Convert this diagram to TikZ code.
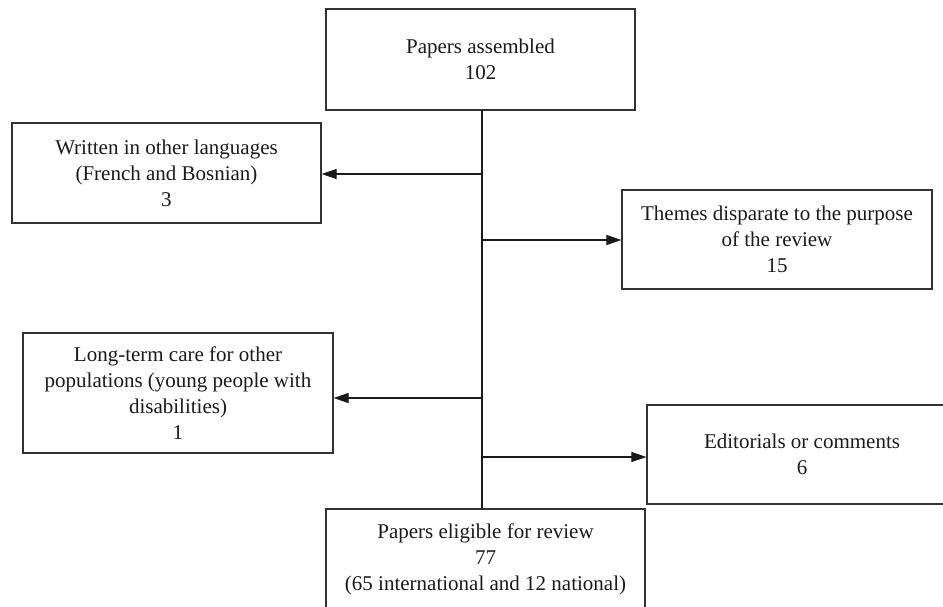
\documentclass[tikz,border=0pt]{standalone}
\usepackage{fontspec}
\setmainfont{Liberation Serif}
\usetikzlibrary{arrows.meta,calc}
\definecolor{pfink}{HTML}{1A1A1A}
\definecolor{pfline}{HTML}{333333}
\tikzset{
  pf text/.style={font=\fontsize{10.5}{13}\selectfont, text=pfink},
  pf box/.style={draw=pfline, line width=0.6pt, fill=white, align=center,
    inner sep=2pt, font=\fontsize{10.5}{13}\selectfont},
  pf arrow/.style={-{Triangle[length=7.5pt,width=5pt]}, line width=0.55pt, draw=pfink},
  pf trunk/.style={line width=0.55pt, draw=pfink}
}

\begin{document}
\begin{tikzpicture}[pf text, x=0.5pt, y=-0.5pt]
  \useasboundingbox[fill=white] (0,0) rectangle (943,606);
  % boxes
  \node[pf box, minimum width=154.5pt, minimum height=50.5pt] (assembled) at (480.5,59.5) {Papers assembled\\102};
  \node[pf box, minimum width=154.5pt, minimum height=50pt] (languages) at (166.5,173) {Written in other languages\\(French and Bosnian)\\3};
  \node[pf box, minimum width=155pt, minimum height=49.5pt] (themes) at (777,239.5) {Themes disparate to the purpose\\of the review\\15};
  \node[pf box, minimum width=155pt, minimum height=60pt] (longterm) at (178,393) {Long-term care for other\\populations (young people with\\disabilities)\\1};
  \node[pf box, minimum width=155pt, minimum height=49.5pt] (editorials) at (802,454.5) {Editorials or comments\\6};
  \node[pf box, minimum width=159.5pt, minimum height=50pt] (eligible) at (485.5,559) {Papers eligible for review\\77\\(65 international and 12 national)};
  % trunk and branches
  \coordinate (top) at (482,110);
  \coordinate (j1) at (482,174);
  \coordinate (j2) at (482,240);
  \coordinate (j3) at (482,398);
  \coordinate (j4) at (482,457);
  \draw[pf trunk] (top) -- (top |- eligible.north);
  \draw[pf arrow] (j1) -- (j1 -| languages.east);
  \draw[pf arrow] (j2) -- (j2 -| themes.west);
  \draw[pf arrow] (j3) -- (j3 -| longterm.east);
  \draw[pf arrow] (j4) -- (j4 -| editorials.west);
\end{tikzpicture}
\end{document}
